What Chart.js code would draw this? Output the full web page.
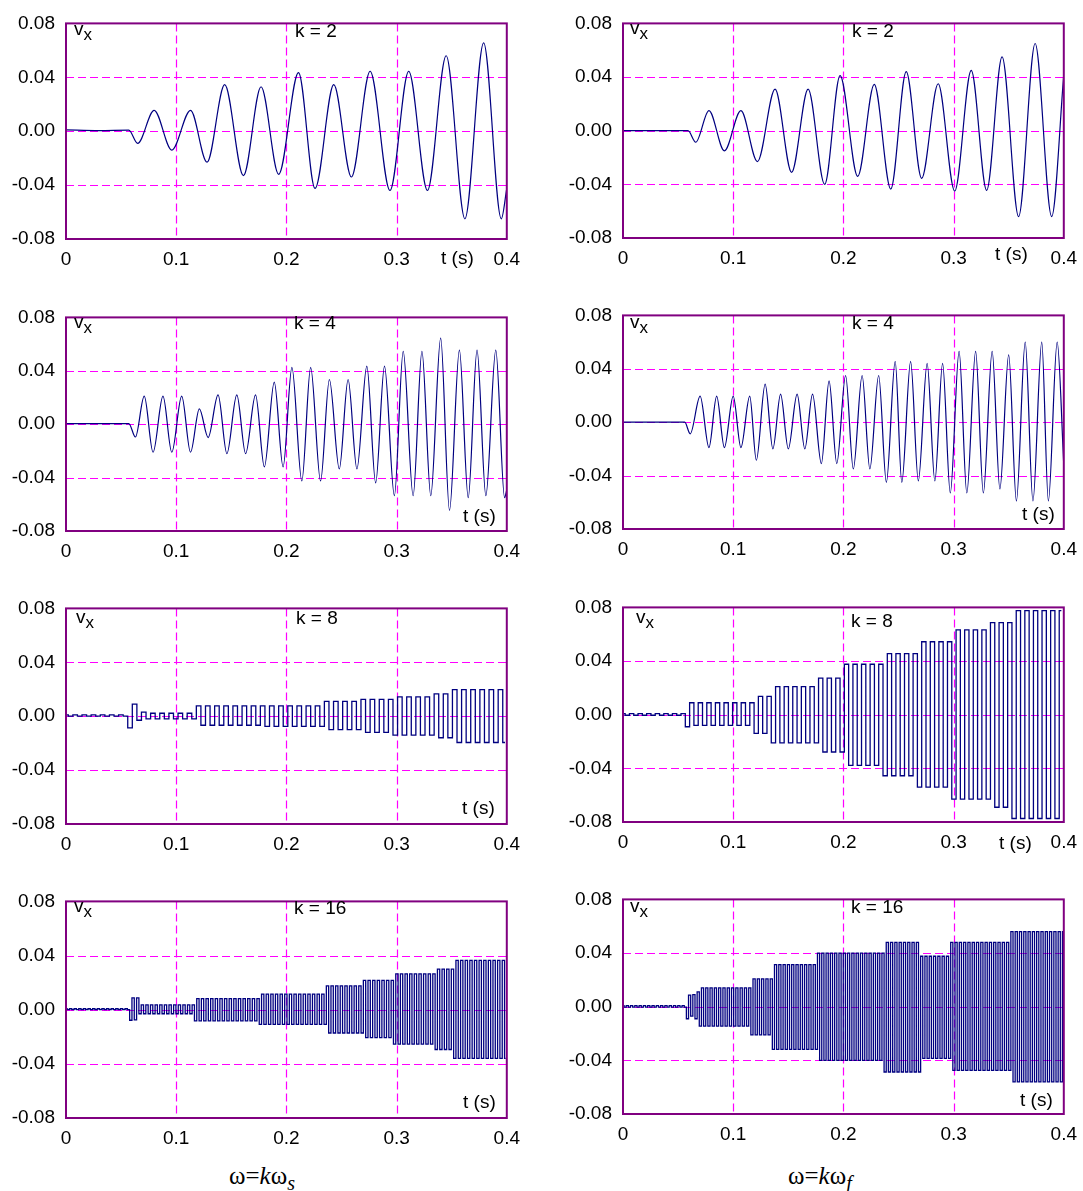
<!DOCTYPE html>
<html>
<head>
<meta charset="utf-8">
<title>v_x for k = 2, 4, 8, 16</title>
<script src="https://cdn.jsdelivr.net/npm/chart.js@4.4.0/dist/chart.umd.min.js"></script>
<style>
  body { margin: 0; background: #fff; }
  #page { position: relative; width: 1083px; height: 1191px; overflow: hidden;
          font-family: "Liberation Sans", Arial, sans-serif; }
  #page canvas { position: absolute; }
  .note { position: absolute; font-size: 19px; line-height: 19px; color: #000; white-space: nowrap; }
  .note sub { font-size: 17px; line-height: 0; vertical-align: -5px; }
  .caption { position: absolute; font-family: "Liberation Serif", "Times New Roman", serif;
             font-size: 25px; line-height: 25px; color: #000; white-space: nowrap; }
  .caption sub { font-size: 20px; line-height: 0; vertical-align: -6px; }
</style>
</head>
<body>
<div id="page"></div>
<script>
// ---- data ----
// k = 2, left (omega = k*omega_s): peak / trough times and values
const timesA = [0, 0.03, 0.057, 0.065, 0.080, 0.096, 0.113, 0.128, 0.144, 0.161, 0.177, 0.193, 0.211,
  0.226, 0.243, 0.259, 0.276, 0.294, 0.311, 0.328, 0.345, 0.362, 0.379, 0.395, 0.4];
const valuesA = [0.001, 0.0005, 0.0008, -0.009, 0.0155, -0.014, 0.0155, -0.023, 0.0345, -0.033, 0.033, -0.032, 0.0435,
  -0.0425, 0.0345, -0.034, 0.0445, -0.044, 0.0445, -0.044, 0.056, -0.065, 0.0655, -0.065, -0.0425];

// k = 2, right (omega = k*omega_f)
const timesB = [0, 0.03, 0.059, 0.066, 0.078, 0.092, 0.107, 0.122, 0.138, 0.153, 0.168, 0.183, 0.197, 0.213,
  0.228, 0.243, 0.257, 0.271, 0.286, 0.301, 0.316, 0.330, 0.344, 0.359, 0.374, 0.389, 0.4];
const valuesB = [0, 0, 0, -0.0086, 0.015, -0.015, 0.015, -0.023, 0.031, -0.031, 0.031, -0.04, 0.041, -0.034,
  0.0345, -0.0435, 0.044, -0.0355, 0.035, -0.045, 0.045, -0.0445, 0.055, -0.064, 0.065, -0.064, 0.042];

// k = 4, left
const timesC = [0, 0.057, 0.063, 0.071, 0.079, 0.088, 0.096, 0.105, 0.113, 0.121,
  0.129, 0.138, 0.146, 0.155, 0.163, 0.172, 0.180, 0.189, 0.197, 0.205,
  0.214, 0.222, 0.231, 0.239, 0.248, 0.256, 0.264, 0.273, 0.281, 0.289,
  0.298, 0.306, 0.315, 0.323, 0.331, 0.340, 0.348, 0.357, 0.365, 0.373,
  0.381, 0.390, 0.398, 0.4];
const valuesC = [0.0005, 0.0005, -0.0096, 0.021, -0.021, 0.021, -0.021, 0.021, -0.021, 0.0115,
  -0.010, 0.022, -0.022, 0.022, -0.022, 0.022, -0.032, 0.0315, -0.032, 0.0425,
  -0.0425, 0.0425, -0.0425, 0.0335, -0.0335, 0.0335, -0.0335, 0.0435, -0.044, 0.0435,
  -0.0535, 0.0545, -0.0535, 0.0545, -0.0535, 0.0645, -0.0645, 0.0555, -0.055, 0.0555,
  -0.0535, 0.0555, -0.055, -0.049];

// k = 4, right
const timesD = [0, 0.056, 0.061, 0.070, 0.078, 0.085, 0.092, 0.100, 0.107, 0.115,
  0.121, 0.129, 0.136, 0.143, 0.150, 0.158, 0.165, 0.172, 0.180, 0.187,
  0.194, 0.202, 0.209, 0.217, 0.224, 0.232, 0.239, 0.247, 0.253, 0.261,
  0.268, 0.276, 0.283, 0.290, 0.297, 0.305, 0.312, 0.320, 0.327, 0.335,
  0.342, 0.350, 0.357, 0.365, 0.372, 0.380, 0.386, 0.394, 0.4];
const valuesD = [0, 0, -0.0087, 0.0195, -0.019, 0.0195, -0.019, 0.0195, -0.019, 0.0195,
  -0.0285, 0.0285, -0.020, 0.021, -0.020, 0.021, -0.020, 0.021, -0.031, 0.031,
  -0.031, 0.035, -0.035, 0.035, -0.035, 0.035, -0.045, 0.0455, -0.045, 0.0455,
  -0.044, 0.044, -0.044, 0.044, -0.053, 0.053, -0.053, 0.053, -0.053, 0.053,
  -0.050, 0.0505, -0.059, 0.060, -0.059, 0.060, -0.059, 0.060, -0.032];

// k = 8 and k = 16: half-cycle levels, sampled every half period from t = 0
const stepE = 0.00415;  // k = 8, left
const valuesE = [
  0.001, 0, 0.001, 0, 0.001, 0, 0.001, 0, 0.001, 0, 0.001, 0, 0.001, 0,
  -0.0087, 0.0089,
  -0.003, 0.003, -0.002, 0.0022, -0.002, 0.0022, -0.002, 0.0022, -0.002, 0.0022, -0.002, 0.0022, -0.002,
  0.0077, -0.0067, 0.0077, -0.0067, 0.0077, -0.0067, 0.0077, -0.0067, 0.0077, -0.0067, 0.0077, -0.0067, 0.0077, -0.0067,
  0.0077, -0.0075, 0.0077, -0.0075, 0.0077, -0.0075, 0.0077, -0.0075, 0.0077, -0.0075, 0.0077, -0.0075, 0.0077, -0.0075,
  0.011, -0.010, 0.011, -0.010, 0.011, -0.010, 0.011, -0.010,
  0.0125, -0.012, 0.0125, -0.012, 0.0125, -0.012, 0.0125,
  -0.014, 0.0144, -0.014, 0.0144, -0.014, 0.0144, -0.014, 0.0144, -0.014,
  0.0166, -0.016, 0.0166, -0.016,
  0.0197, -0.0195, 0.0197, -0.0195, 0.0197, -0.0195, 0.0197, -0.0195, 0.0197, -0.0195, 0.0197, -0.0195
];

const stepF = 0.0039;   // k = 8, right
const valuesF = [
  0.0008, -0.0004, 0.0008, -0.0004, 0.0008, -0.0004, 0.0008, -0.0004, 0.0008, -0.0004, 0.0008, -0.0004, 0.0008, -0.0004, 0.0008,
  -0.009,
  0.0089, -0.008, 0.0089, -0.008, 0.0089, -0.008, 0.0089, -0.008, 0.0089, -0.008, 0.0089, -0.008, 0.0089, -0.008, 0.0089,
  -0.0139, 0.0137, -0.0139, 0.0137,
  -0.021, 0.021, -0.021, 0.021, -0.021, 0.021, -0.021, 0.021, -0.021, 0.021, -0.021,
  0.0273, -0.0278, 0.0273, -0.0278, 0.0273, -0.0278,
  0.0376, -0.0378, 0.0376, -0.0378, 0.0376, -0.0378, 0.0376, -0.0378, 0.0376,
  -0.0455, 0.0455, -0.0455, 0.0455, -0.0455, 0.0455, -0.0455, 0.0455,
  -0.054, 0.0544, -0.054, 0.0544, -0.054, 0.0544, -0.054, 0.0544,
  -0.063, 0.0632, -0.063, 0.0632, -0.063, 0.0632, -0.063, 0.0632, -0.063,
  0.0687, -0.069, 0.0687, -0.069, 0.0687,
  -0.0774, 0.0776, -0.0774, 0.0776, -0.0774, 0.0776, -0.0774, 0.0776, -0.0774, 0.0776, -0.0774, 0.0776
];

const stepG = 0.0021;   // k = 16, left
const valuesG = [
  0.0007, 0, 0.0007, 0, 0.0007, 0, 0.0007, 0, 0.0007, 0, 0.0007, 0, 0.0007, 0,
  0.0007, 0, 0.0007, 0, 0.0007, 0, 0.0007, 0, 0.0007, 0, 0.0007, 0, 0.0007, 0,
  -0.0078, 0.0087, -0.0075, 0.0087,
  -0.003, 0.0035, -0.003, 0.0035, -0.003, 0.0035, -0.003, 0.0035, -0.003, 0.0035, -0.003, 0.0035,
  -0.003, 0.0035, -0.003, 0.0035, -0.003, 0.0035, -0.003, 0.0035, -0.003, 0.0035, -0.003, 0.0035,
  -0.0082, 0.0082, -0.0082, 0.0082, -0.0082, 0.0082, -0.0082, 0.0082, -0.0082, 0.0082, -0.0082, 0.0082, -0.0082, 0.0082,
  -0.0082, 0.0082, -0.0082, 0.0082, -0.0082, 0.0082, -0.0082, 0.0082, -0.0082, 0.0082, -0.0082, 0.0082, -0.0082, 0.0082,
  -0.0108, 0.0115, -0.0108, 0.0115, -0.0108, 0.0115, -0.0108, 0.0115, -0.0108, 0.0115, -0.0108, 0.0115, -0.0108, 0.0115,
  -0.0108, 0.0115, -0.0108, 0.0115, -0.0108, 0.0115, -0.0108, 0.0115, -0.0108, 0.0115, -0.0108, 0.0115, -0.0108, 0.0115, -0.0108,
  0.0176, -0.0172, 0.0176, -0.0172, 0.0176, -0.0172, 0.0176, -0.0172, 0.0176, -0.0172, 0.0176, -0.0172, 0.0176, -0.0172, 0.0176, -0.0172,
  0.0216, -0.0207, 0.0216, -0.0207, 0.0216, -0.0207, 0.0216, -0.0207, 0.0216, -0.0207, 0.0216, -0.0207, 0.0216,
  -0.0254, 0.0264, -0.0254, 0.0264, -0.0254, 0.0264, -0.0254, 0.0264, -0.0254, 0.0264, -0.0254, 0.0264, -0.0254, 0.0264,
  -0.0254, 0.0264, -0.0254, 0.0264,
  -0.0294, 0.0299, -0.0294, 0.0299, -0.0294, 0.0299, -0.0294, 0.0299,
  -0.036, 0.0365, -0.036, 0.0365, -0.036, 0.0365, -0.036, 0.0365, -0.036, 0.0365, -0.036, 0.0365,
  -0.036, 0.0365, -0.036, 0.0365, -0.036, 0.0365, -0.036, 0.0365, -0.036, 0.0365, -0.036
];

const stepH = 0.00195;  // k = 16, right
const valuesH = [
  0.0008, -0.0003, 0.0008, -0.0003, 0.0008, -0.0003, 0.0008, -0.0003, 0.0008, -0.0003,
  0.0008, -0.0003, 0.0008, -0.0003, 0.0008, -0.0003, 0.0008, -0.0003, 0.0008, -0.0003,
  0.0008, -0.0003, 0.0008, -0.0003, 0.0008, -0.0003, 0.0008, -0.0003, 0.0008, -0.0003,
  -0.009,
  0.0087, -0.007, 0.009, -0.009, 0.011,
  -0.0145, 0.014, -0.0145, 0.014, -0.0145, 0.014, -0.0145, 0.014, -0.0145, 0.014, -0.0145, 0.014,
  -0.0145, 0.014, -0.0145, 0.014, -0.0145, 0.014, -0.0145, 0.014, -0.0145, 0.014, -0.0145, 0.014,
  -0.021, 0.0207, -0.021, 0.0207, -0.021, 0.0207, -0.021, 0.0207, -0.021, 0.0207,
  -0.0318, 0.0313, -0.0318, 0.0313, -0.0318, 0.0313, -0.0318, 0.0313, -0.0318, 0.0313,
  -0.0318, 0.0313, -0.0318, 0.0313, -0.0318, 0.0313, -0.0318, 0.0313, -0.0318, 0.0313, -0.0318,
  0.040, -0.040, 0.040, -0.040, 0.040, -0.040, 0.040, -0.040, 0.040, -0.040, 0.040, -0.040, 0.040, -0.040, 0.040, -0.040,
  0.040, -0.040, 0.040, -0.040, 0.040, -0.040, 0.040, -0.040, 0.040, -0.040, 0.040, -0.040, 0.040, -0.040, 0.040,
  -0.0487, 0.048, -0.0487, 0.048, -0.0487, 0.048, -0.0487, 0.048, -0.0487, 0.048, -0.0487, 0.048, -0.0487, 0.048,
  -0.0487, 0.048, -0.0487,
  0.0376, -0.0386, 0.0376, -0.0386, 0.0376, -0.0386, 0.0376, -0.0386, 0.0376, -0.0386, 0.0376, -0.0386, 0.0376, -0.0386,
  0.048, -0.0475, 0.048, -0.0475, 0.048, -0.0475, 0.048, -0.0475, 0.048, -0.0475, 0.048, -0.0475, 0.048, -0.0475,
  0.048, -0.0475, 0.048, -0.0475, 0.048, -0.0475, 0.048, -0.0475, 0.048, -0.0475, 0.048, -0.0475, 0.048, -0.0475,
  0.056, -0.056, 0.056, -0.056, 0.056, -0.056, 0.056, -0.056, 0.056, -0.056, 0.056, -0.056,
  0.056, -0.056, 0.056, -0.056, 0.056, -0.056, 0.056, -0.056, 0.056, -0.056, 0.056, -0.056, 0.056
];

const xTicks = [0, 0.1, 0.2, 0.3, 0.4];
const yTicks = [-0.08, -0.04, 0, 0.04, 0.08];

// ---- layout ----
const PAD_L = 62, PAD_T = 14, PAD_R = 22, PAD_B = 32;
const FONT = { family: '"Liberation Sans", Arial, sans-serif', size: 19 };
const GRID = '#ff00ff';
const page = document.getElementById('page');

// dashed magenta grid at the inner ticks, placed with the chart's own scales
const dashedGrid = {
  id: 'dashedGrid',
  beforeDatasetsDraw(chart) {
    const { ctx, chartArea: a, scales } = chart;
    ctx.save();
    ctx.strokeStyle = GRID;
    ctx.lineWidth = 1.2;
    ctx.setLineDash([8, 4]);
    xTicks.slice(1, -1).forEach(v => {
      const px = Math.round(scales.x.getPixelForValue(v)) + 0.5;
      ctx.beginPath(); ctx.moveTo(px, a.top); ctx.lineTo(px, a.bottom); ctx.stroke();
    });
    yTicks.slice(1, -1).forEach(v => {
      const py = Math.round(scales.y.getPixelForValue(v)) + 0.5;
      ctx.beginPath(); ctx.moveTo(a.left, py); ctx.lineTo(a.right, py); ctx.stroke();
    });
    ctx.restore();
  },
  // purple frame on top of the trace
  afterDatasetsDraw(chart) {
    const { ctx, chartArea: a } = chart;
    ctx.save();
    ctx.strokeStyle = '#800080';
    ctx.lineWidth = 2;
    ctx.strokeRect(a.left, a.top, a.right - a.left, a.bottom - a.top);
    ctx.restore();
  }
};

function drawPanel(box, points, mode) {
  const w = box.x1 - box.x0 + PAD_L + PAD_R;
  const h = box.y1 - box.y0 + PAD_T + PAD_B;
  const cv = document.createElement('canvas');
  cv.width = w; cv.height = h;
  cv.style.width = w + 'px'; cv.style.height = h + 'px';
  cv.style.left = (box.x0 - PAD_L) + 'px';
  cv.style.top = (box.y0 - PAD_T) + 'px';
  page.appendChild(cv);

  new Chart(cv, {
    type: 'line',
    data: {
      datasets: [{
        data: points,
        borderColor: '#000080',
        borderWidth: mode === 'step' ? 1.3 : 1.2,
        pointRadius: 0,
        fill: false,
        tension: 0,
        stepped: mode === 'step' ? 'middle' : false,
        cubicInterpolationMode: mode === 'smooth' ? 'monotone' : 'default'
      }]
    },
    options: {
      responsive: false,
      animation: false,
      devicePixelRatio: 1,
      layout: { padding: { left: 0, top: PAD_T, right: PAD_R, bottom: 0 } },
      plugins: { legend: { display: false }, tooltip: { enabled: false } },
      scales: {
        x: {
          type: 'linear', min: xTicks[0], max: xTicks[xTicks.length - 1],
          afterFit: s => { s.height = PAD_B; },
          afterBuildTicks: s => { s.ticks = xTicks.map(v => ({ value: v })); },
          ticks: { color: '#000', font: FONT, padding: 9, maxRotation: 0,
                   callback: v => Math.abs(v) < 1e-9 ? '0' : v.toFixed(1) },
          grid: { display: false, drawTicks: false },
          border: { display: false }
        },
        y: {
          min: yTicks[0], max: yTicks[yTicks.length - 1],
          afterFit: s => { s.width = PAD_L; },
          afterBuildTicks: s => { s.ticks = yTicks.map(v => ({ value: v })); },
          ticks: { color: '#000', font: FONT, padding: 11,
                   callback: v => Math.abs(v) < 1e-9 ? '0.00' : v.toFixed(2) },
          grid: { display: false, drawTicks: false },
          border: { display: false }
        }
      }
    },
    plugins: [dashedGrid]
  });
}

const byTime = (ts, vs) => ts.map((t, i) => ({ x: t, y: vs[i] }));
const bySample = (step, vs) => vs.map((v, i) => ({ x: i * step, y: v }));

const LEFT = { x0: 66, x1: 507 }, RIGHT = { x0: 623, x1: 1064 };
drawPanel({ ...LEFT,  y0: 15,  y1: 239 },  byTime(timesA, valuesA), 'smooth');
drawPanel({ ...RIGHT, y0: 15,  y1: 238 },  byTime(timesB, valuesB), 'smooth');
drawPanel({ ...LEFT,  y0: 309, y1: 531 },  byTime(timesC, valuesC), 'smooth');
drawPanel({ ...RIGHT, y0: 307, y1: 529 },  byTime(timesD, valuesD), 'smooth');
drawPanel({ ...LEFT,  y0: 600, y1: 824 },  bySample(stepE, valuesE), 'step');
drawPanel({ ...RIGHT, y0: 599, y1: 822 },  bySample(stepF, valuesF), 'step');
drawPanel({ ...LEFT,  y0: 893, y1: 1118 }, bySample(stepG, valuesG), 'step');
drawPanel({ ...RIGHT, y0: 891, y1: 1114 }, bySample(stepH, valuesH), 'step');

// ---- text inside / around the panels (x, baseline, html) ----
const notes = [
  [74, 35, 'v<sub>x</sub>'], [295, 37, 'k = 2'], [441, 264, 't (s)'],
  [630, 34, 'v<sub>x</sub>'], [852, 37, 'k = 2'], [995, 260, 't (s)'],
  [74, 328, 'v<sub>x</sub>'], [294, 329, 'k = 4'], [463, 522, 't (s)'],
  [630, 328, 'v<sub>x</sub>'], [852, 329, 'k = 4'], [1022, 520, 't (s)'],
  [76, 623, 'v<sub>x</sub>'], [296, 624, 'k = 8'], [462, 814, 't (s)'],
  [636, 623, 'v<sub>x</sub>'], [851, 627, 'k = 8'], [999, 849, 't (s)'],
  [74, 912, 'v<sub>x</sub>'], [294, 914, 'k = 16'], [463, 1108, 't (s)'],
  [630, 912, 'v<sub>x</sub>'], [851, 913, 'k = 16'], [1020, 1106, 't (s)']
];
notes.forEach(([x, base, html]) => {
  const d = document.createElement('div');
  d.className = 'note';
  d.innerHTML = html;
  d.style.left = x + 'px';
  d.style.top = (base - 16) + 'px';
  page.appendChild(d);
});

const captions = [
  [262, 1184, 'ω=<i>k</i>ω<sub><i>s</i></sub>'],
  [820, 1184, 'ω=<i>k</i>ω<sub><i>f</i></sub>']
];
captions.forEach(([cx, base, html]) => {
  const d = document.createElement('div');
  d.className = 'caption';
  d.innerHTML = html;
  page.appendChild(d);
  d.style.left = (cx - d.offsetWidth / 2) + 'px';
  d.style.top = (base - 21) + 'px';
});
</script>
</body>
</html>
